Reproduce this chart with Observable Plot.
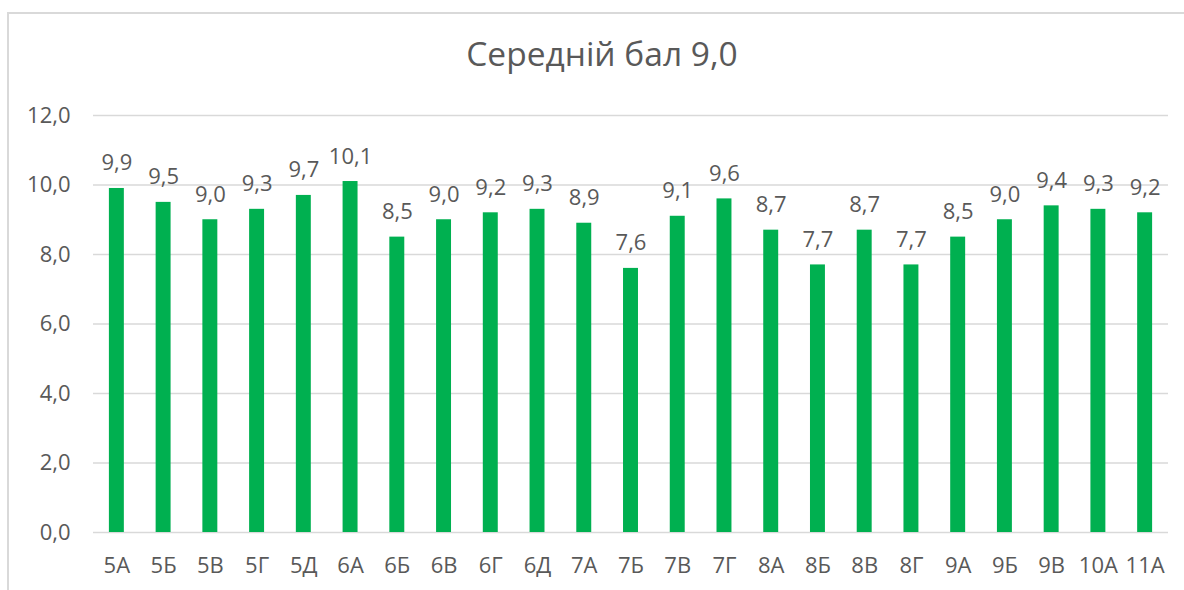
<!DOCTYPE html>
<html>
<head>
<meta charset="utf-8">
<script src="https://cdn.jsdelivr.net/npm/d3@7"></script>
<script src="https://cdn.jsdelivr.net/npm/@observablehq/plot@0.6"></script>
<style>
  html, body { margin: 0; padding: 0; background: #fff; }
  body { width: 1184px; height: 590px; position: relative; overflow: hidden; font-family: "Open Sans", sans-serif; }
  #frame { position: absolute; left: 7px; top: 12px; width: 1200px; height: 620px; border: 2px solid #d9d9d9; box-sizing: border-box; }
  #title { position: absolute; left: 0; width: 1204px; top: 31px; text-align: center; font-size: 33.5px; color: #595959; line-height: 45.6px; white-space: nowrap; }
  #chart { position: absolute; left: 0; top: 0; }
</style>
</head>
<body>
<div id="frame"></div>
<div id="title">Середній бал 9,0</div>
<div id="chart"></div>
<script>
const classes = ["5А","5Б","5В","5Г","5Д","6А","6Б","6В","6Г","6Д","7А","7Б","7В","7Г","8А","8Б","8В","8Г","9А","9Б","9В","10А","11А"];
const averages = [9.9,9.5,9.0,9.3,9.7,10.1,8.5,9.0,9.2,9.3,8.9,7.6,9.1,9.6,8.7,7.7,8.7,7.7,8.5,9.0,9.4,9.3,9.2];
const yTicks = [0,2,4,6,8,10,12];

const data = classes.map((c, i) => ({cls: c, value: averages[i]}));
const fmt = v => v.toFixed(1).replace(".", ",");

const chart = Plot.plot({
  width: 1184,
  height: 590,
  marginLeft: 93,
  marginRight: 16,
  marginTop: 115,
  marginBottom: 58,
  style: {fontFamily: "'Open Sans', sans-serif", fontSize: "22px", color: "#595959", background: "transparent", overflow: "visible"},
  x: {domain: classes, paddingInner: 0.68, paddingOuter: 0.34, round: false, label: null, tickSize: 0, tickPadding: 25},
  y: {domain: [0, 12], ticks: yTicks, tickFormat: fmt, label: null, tickSize: 0, tickPadding: 23},
  marks: [
    Plot.ruleY(yTicks, {stroke: "#d9d9d9", strokeWidth: 1.5}),
    Plot.barY(data, {x: "cls", y: "value", fill: "#00b050"}),
    Plot.text(data, {x: "cls", y: "value", text: d => fmt(d.value), lineAnchor: "bottom", dy: -18, fill: "#595959", fontSize: 22})
  ]
});
document.getElementById("chart").appendChild(chart);
</script>
</body>
</html>
